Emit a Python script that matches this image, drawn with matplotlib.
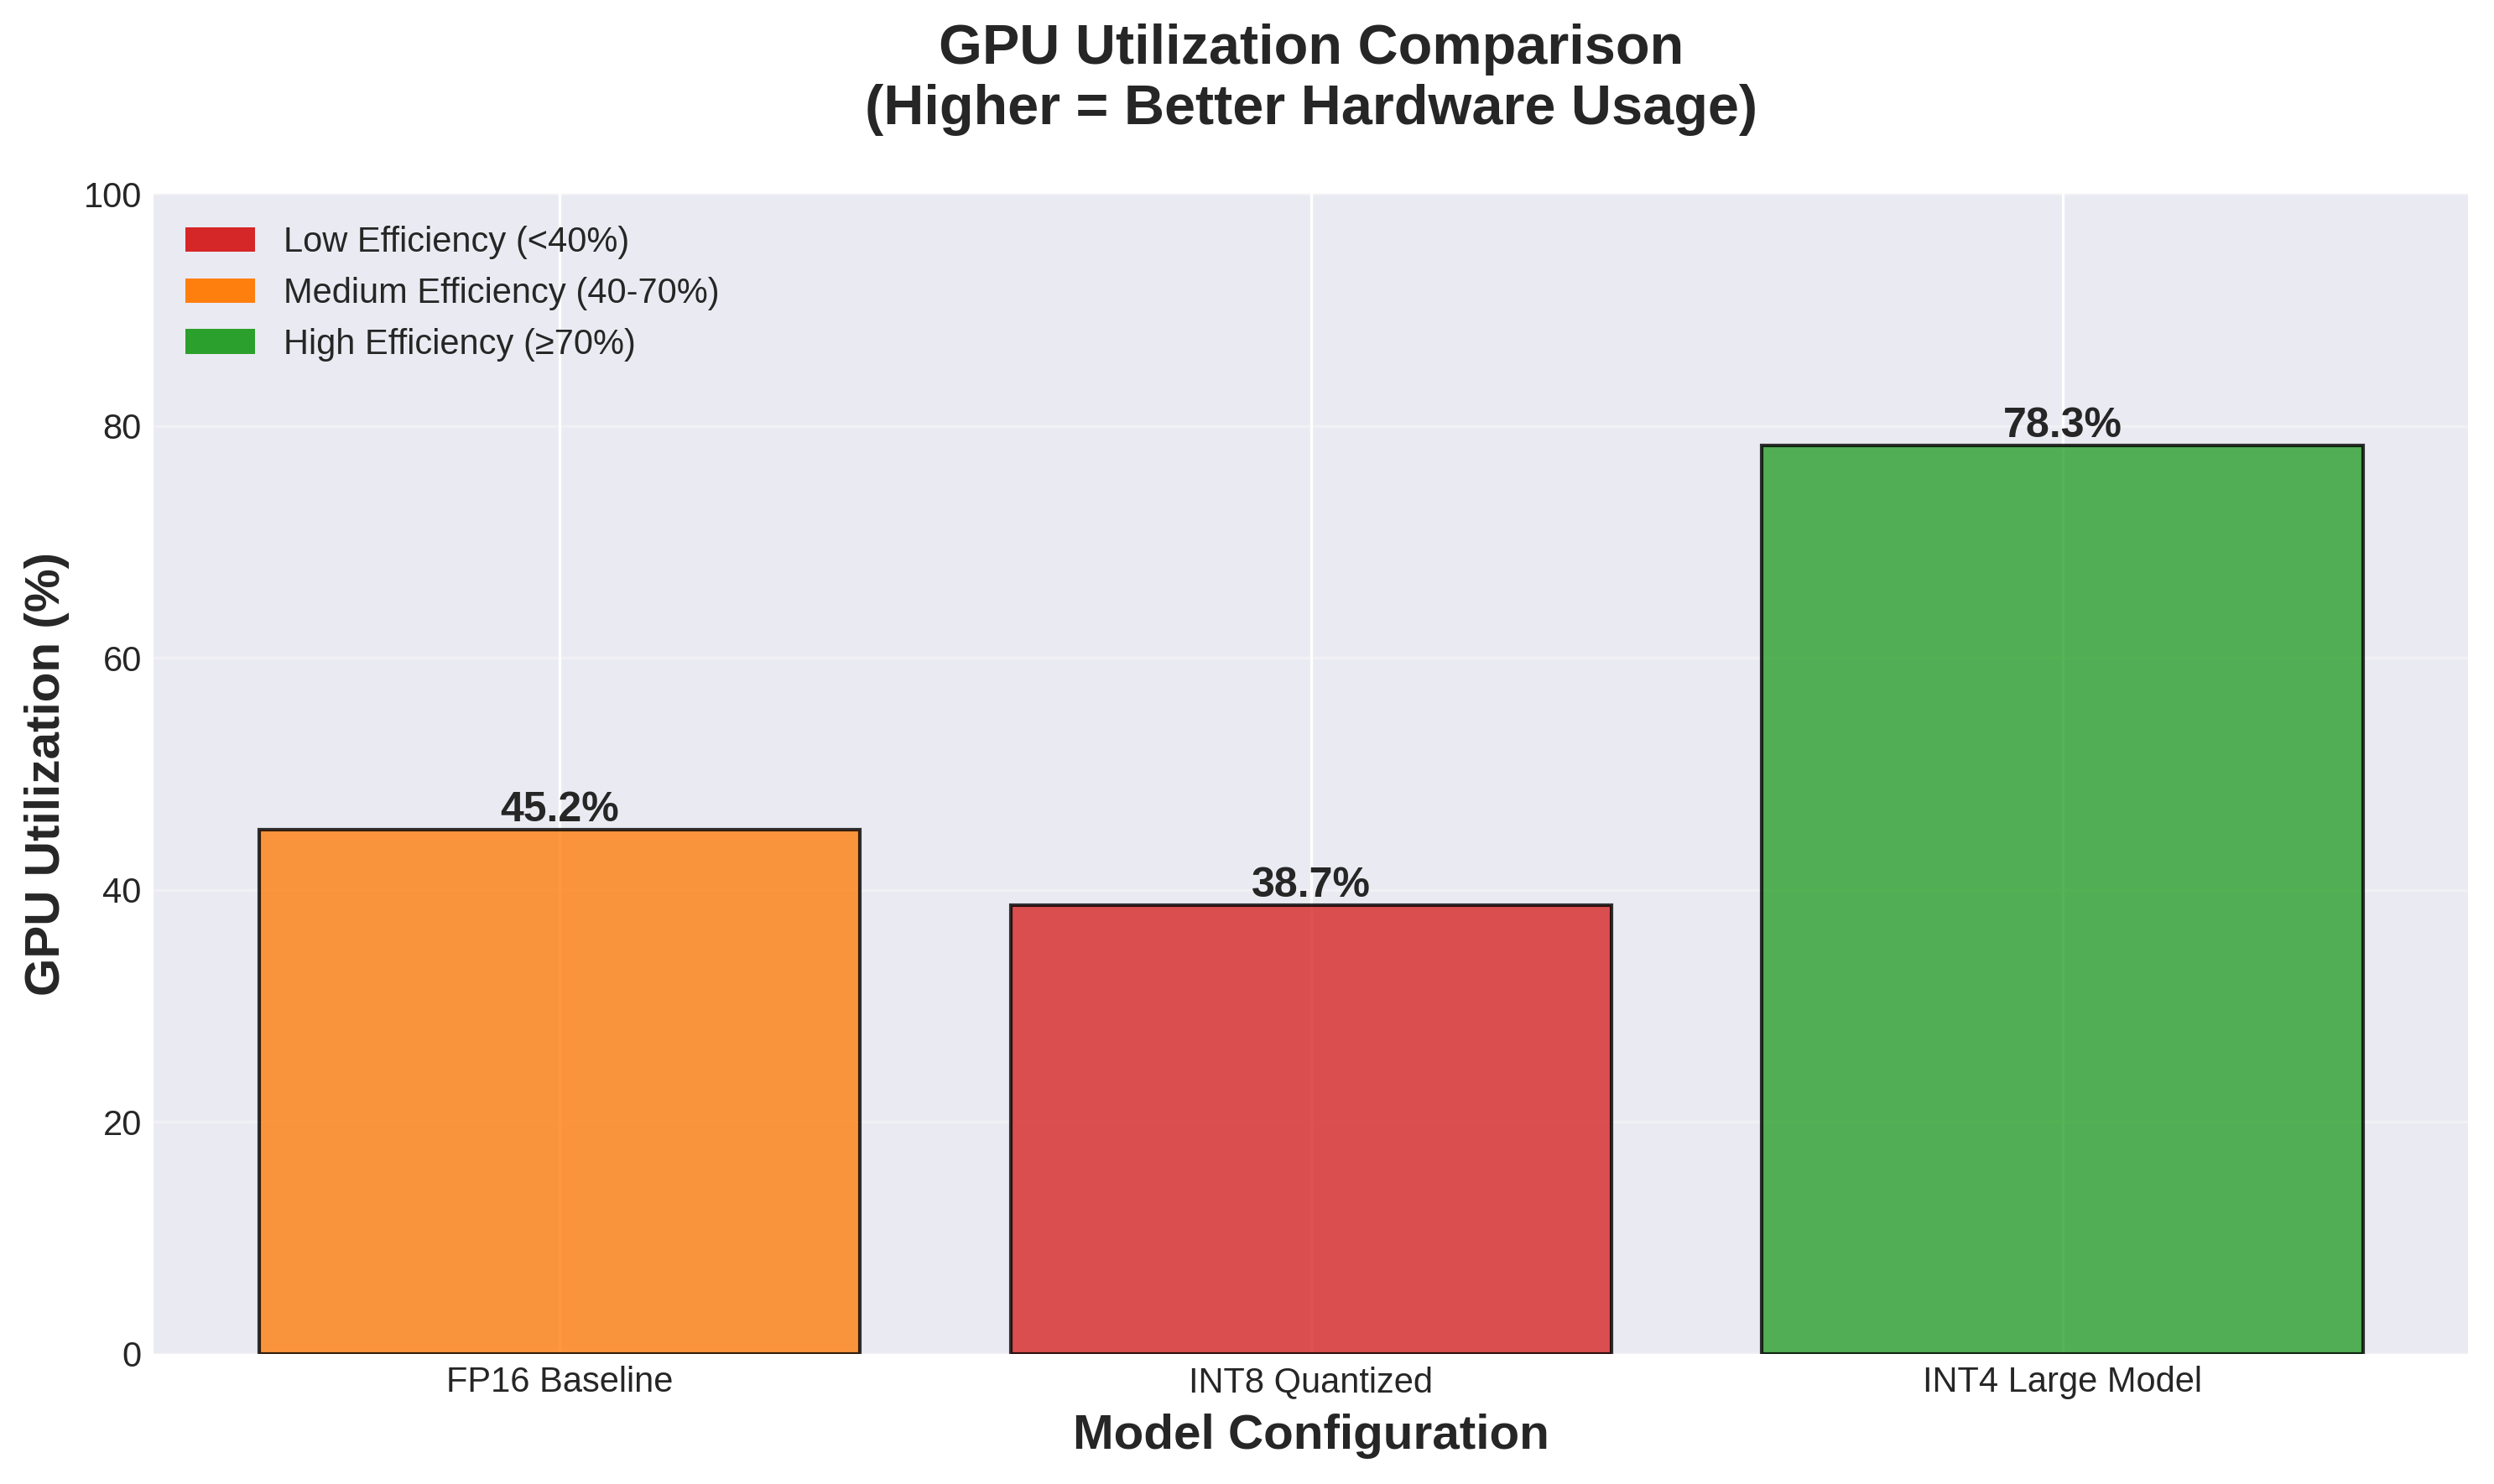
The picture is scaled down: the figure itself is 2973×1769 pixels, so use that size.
import matplotlib
matplotlib.use("Agg")
import matplotlib.pyplot as plt
from matplotlib.patches import Patch

models = ["FP16 Baseline", "INT8 Quantized", "INT4 Large Model"]
utilization = [45.2, 38.7, 78.3]
legend_labels = ["Low Efficiency (<40%)", "Medium Efficiency (40-70%)", "High Efficiency (\u226570%)"]

plt.style.use("seaborn-v0_8-darkgrid")
plt.rcParams["font.family"] = ["Liberation Sans", "DejaVu Sans"]


def pick_color(v):
    if v < 40:
        return "#d62728"
    elif v < 70:
        return "#ff7f0e"
    return "#2ca02c"


fig = plt.figure(figsize=(2973 / 300, 1769 / 300), dpi=300)
ax = fig.add_axes([0.0617, 0.0879, 0.928, 0.7813])

colors = [pick_color(v) for v in utilization]
bars = ax.bar(models, utilization, color=colors, alpha=0.8, edgecolor="black", linewidth=1.0)

for b, v in zip(bars, utilization):
    ax.text(b.get_x() + b.get_width() / 2, v, f"{v}%", ha="center", va="bottom",
            fontsize=12, fontweight="bold", color="#262626")

ax.set_ylim(0, 100)
ax.set_xlabel("Model Configuration", fontsize=14, fontweight="bold")
ax.set_ylabel("GPU Utilization (%)", fontsize=14, fontweight="bold")
ax.set_title("GPU Utilization Comparison\n(Higher = Better Hardware Usage)",
             fontsize=16, fontweight="bold", pad=20)
ax.tick_params(labelsize=10)
ax.grid(axis="y", alpha=0.3)

handles = [Patch(facecolor=c) for c in ["#d62728", "#ff7f0e", "#2ca02c"]]
ax.legend(handles, legend_labels, loc="upper left", fontsize=10, frameon=False)

fig.savefig("out.png", dpi=300)
